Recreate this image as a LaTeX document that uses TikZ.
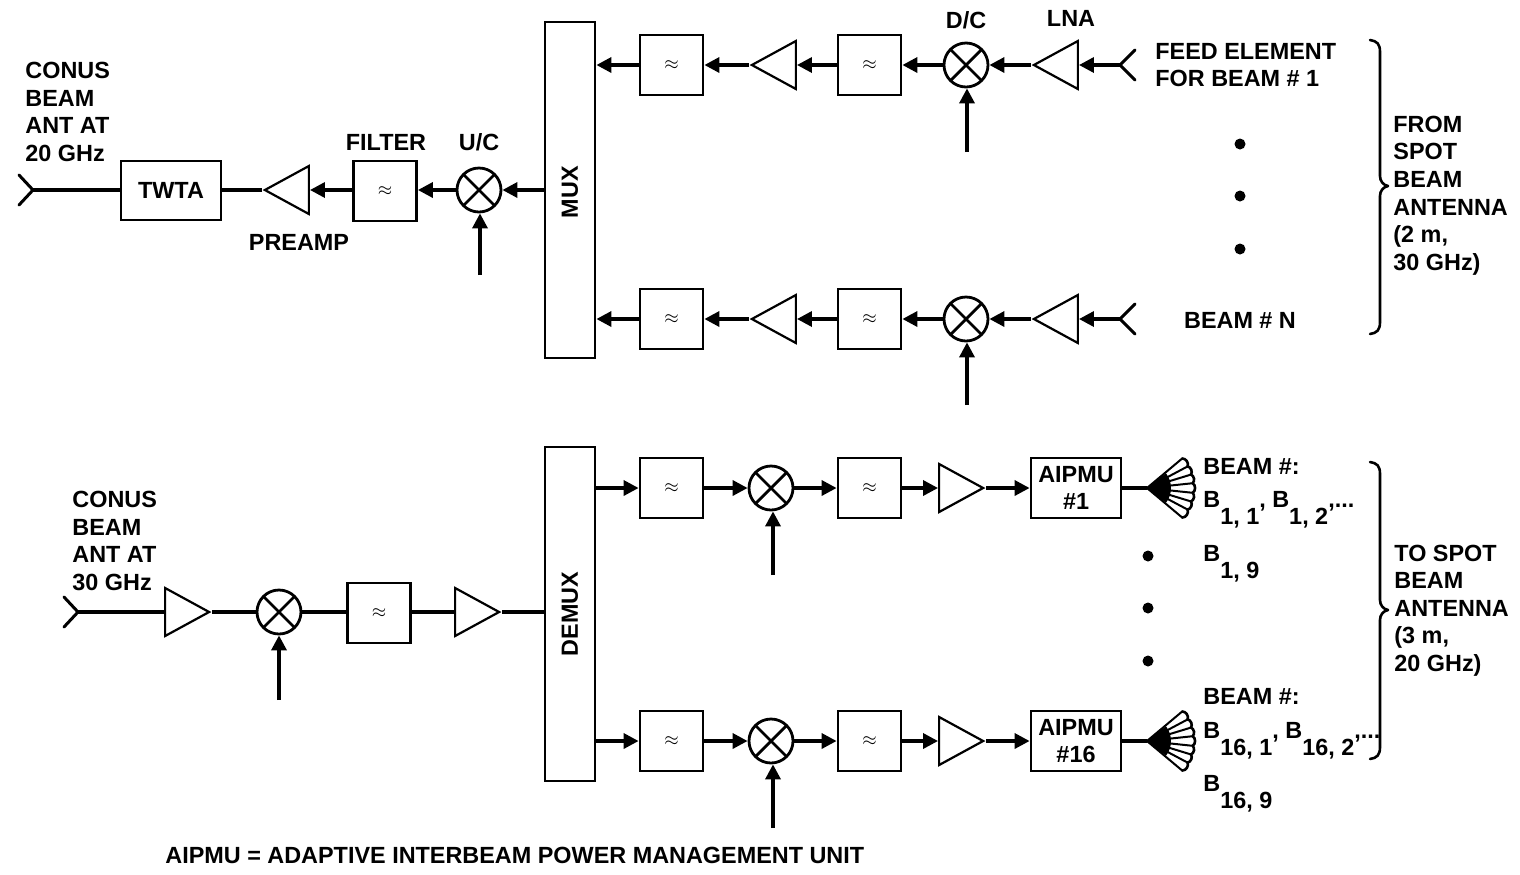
\documentclass[tikz,border=0pt]{standalone}
\usepackage{fontspec}
\setmainfont{Liberation Sans}
\usetikzlibrary{arrows.meta,shapes.geometric,calc}
\newcommand{\lowsub}[1]{\raisebox{-8.5pt}{#1}}
\tikzset{
  wire/.style={line width=1.7pt},
  flow/.style={wire,-{Triangle[length=7.5pt,width=7.5pt]}},
  boxline/.style={draw,line width=1.4pt,inner sep=0pt,fill=white},
  filterbox/.style={boxline,minimum width=31.5pt,minimum height=30pt,font=\small},
  widebox/.style={boxline,minimum width=45pt,minimum height=30pt,align=center,font=\labelfont,execute at begin node={\setlength{\baselineskip}{13.5pt}}},
  mixer/.style={circle,draw,line width=1.4pt,minimum size=22pt,inner sep=0pt,fill=white,
    path picture={\draw[line width=1.4pt] (path picture bounding box.south west)--(path picture bounding box.north east)
      (path picture bounding box.north west)--(path picture bounding box.south east);}},
  ampR/.style={isosceles triangle,isosceles triangle stretches,draw,line width=1.1pt,inner sep=0pt,
    minimum width=24pt,minimum height=22pt,anchor=apex,fill=white},
  ampL/.style={ampR,shape border rotate=180},
  vbox/.style={boxline,minimum width=25pt},
  lbl/.style={inner sep=0pt,font=\labelfont,align=left,anchor=west,execute at begin node={\setlength{\baselineskip}{13.75pt}}},
  clbl/.style={lbl,anchor=center,align=center},
  bigdot/.style={circle,fill=black,minimum size=5.5pt,inner sep=0pt},
  brace/.style={line width=1.3pt,line cap=round,line join=round},
  prong/.style={line width=1.5pt,line cap=round},
  petal/.style={line width=1pt,line cap=round},
}
\newcommand{\labelfont}{\fontsize{11.7}{13.75}\bfseries\selectfont}
\newcommand{\filt}[3]{\node[filterbox] (#1) at (#2,#3) {$\approx$};}
\newcommand{\horn}[2]{% name, y
  \coordinate (#1) at (1147,#2);
  \fill (1147,#2) -- ++(38:24) arc[start angle=38,end angle=-38,radius=24] -- cycle;
  \foreach \a in {-40,-28,-17,-6,6,17,28,40} \draw[petal] (1147,#2) -- ++(\a:46);
  \foreach \a/\b in {-40/-28,-28/-17,-17/-6,-6/6,6/17,17/28,28/40}
    \draw[line width=1.3pt,line cap=round] ($(1147,#2)+(\a:46)$) to[bend left=55] ($(1147,#2)+(\b:46)$);
}
\newcommand{\antleft}[2]{\coordinate (#1) at (#2);
  \draw[prong] ($(#2)+(-14,-15)$) -- (#2) -- ($(#2)+(-14,15)$);}
\newcommand{\antright}[2]{\coordinate (#1) at (#2);
  \draw[prong] ($(#2)+(15,-15)$) -- (#2) -- ($(#2)+(15,15)$);}
\begin{document}
\begin{tikzpicture}[x=0.5pt,y=-0.5pt]
\useasboundingbox (0,0) rectangle (1520,874);

% MUX
\node[vbox,minimum height=168pt] (mux) at (570,190) {};
\node[clbl,rotate=90] (muxt) at (570,192) {MUX};
\node[vbox,minimum height=167pt] (demux) at (570,614) {};
\node[clbl,rotate=90] (demuxt) at (570,614) {DEMUX};

% top row 1
\filt{a1}{671.5}{65}
\node[ampL] (a2) at (749,65) {};
\filt{a3}{869.5}{65}
\node[mixer] (a4) at (966,65) {};
\node[ampL] (a5) at (1031,65) {};
\antright{a6}{1120,65}
\coordinate (a7) at (967,152);
\draw[flow] (a1.west) -- (mux.east |- a1.west);
\draw[flow] (a2.apex) -- (a1.east);
\draw[flow] (a3.west) -- (a2.lower side);
\draw[flow] (a4.west) -- (a3.east);
\draw[flow] (a5.apex) -- (a4.east);
\draw[flow] (a6) -- (a5.lower side);
\draw[flow] (a7) -- (a7 |- a4.south);

% top row N
\filt{b1}{671.5}{319}
\node[ampL] (b2) at (749,319) {};
\filt{b3}{869.5}{319}
\node[mixer] (b4) at (966,319) {};
\node[ampL] (b5) at (1031,319) {};
\antright{b6}{1120,319}
\coordinate (b7) at (967,405);
\draw[flow] (b1.west) -- (mux.east |- b1.west);
\draw[flow] (b2.apex) -- (b1.east);
\draw[flow] (b3.west) -- (b2.lower side);
\draw[flow] (b4.west) -- (b3.east);
\draw[flow] (b5.apex) -- (b4.east);
\draw[flow] (b6) -- (b5.lower side);
\draw[flow] (b7) -- (b7 |- b4.south);

% left upper row
\node[mixer] (c1) at (479,190) {};
\filt{c2}{385}{191}
\node[ampL] (c3) at (262,190) {};
\node[boxline,minimum width=50pt,minimum height=29.5pt,font=\labelfont] (c4) at (171,190.5) {TWTA};
\antleft{c5}{33,190}
\coordinate (c6) at (480,275);
\draw[flow] (mux.west |- c1.east) -- (c1.east);
\draw[flow] (c1.west) -- (c2.east |- c1.west);
\draw[flow] (c2.west |- c1.west) -- (c3.lower side);
\draw[wire] (c3.apex) -- (c4.east |- c3.apex);
\draw[wire] (c4.west |- c5) -- (c5);
\draw[flow] (c6) -- (c6 |- c1.south);

% bottom row 1
\filt{d1}{671.5}{488}
\node[mixer] (d2) at (771,488) {};
\filt{d3}{869.5}{488}
\node[ampR] (d4) at (986,488) {};
\node[widebox] (d5) at (1076,488) {AIPMU\\\#1};
\horn{d6}{488}
\coordinate (d7) at (773,575);
\draw[flow] (demux.east |- d1.west) -- (d1.west);
\draw[flow] (d1.east) -- (d2.west);
\draw[flow] (d2.east) -- (d3.west);
\draw[flow] (d3.east) -- (d4.lower side);
\draw[flow] (d4.apex) -- (d5.west);
\draw[wire] (d5.east) -- (d6);
\draw[flow] (d7) -- (d7 |- d2.south);

% bottom row 16
\filt{e1}{671.5}{741}
\node[mixer] (e2) at (771,741) {};
\filt{e3}{869.5}{741}
\node[ampR] (e4) at (986,741) {};
\node[widebox] (e5) at (1076,741) {AIPMU\\\#16};
\horn{e6}{741}
\coordinate (e7) at (773,828);
\draw[flow] (demux.east |- e1.west) -- (e1.west);
\draw[flow] (e1.east) -- (e2.west);
\draw[flow] (e2.east) -- (e3.west);
\draw[flow] (e3.east) -- (e4.lower side);
\draw[flow] (e4.apex) -- (e5.west);
\draw[wire] (e5.east) -- (e6);
\draw[flow] (e7) -- (e7 |- e2.south);

% left lower row
\antleft{f0}{78,612}
\node[ampR] (f1) at (212,612) {};
\node[mixer] (f2) at (279,612) {};
\filt{f3}{379}{613}
\node[ampR] (f4) at (502,612) {};
\coordinate (f5) at (279,700);
\draw[wire] (f0) -- (f1.lower side);
\draw[wire] (f1.apex) -- (f2.west);
\draw[wire] (f2.east) -- (f3.west |- f2.east);
\draw[wire] (f3.east |- f2.east) -- (f4.lower side);
\draw[wire] (f4.apex) -- (demux.west |- f4.apex);
\draw[flow] (f5) -- (f5 |- f2.south);

% braces
\draw[brace] (1370,40) .. controls (1377,41) and (1380,44) .. (1380,52) -- (1380,176)
  .. controls (1380,181) and (1383,185) .. (1388,186) .. controls (1383,187) and (1380,191) .. (1380,196)
  -- (1380,322) .. controls (1380,330) and (1377,333) .. (1370,334);
\draw[brace] (1370,462) .. controls (1377,463) and (1380,466) .. (1380,474) -- (1380,600)
  .. controls (1380,605) and (1383,609) .. (1388,610) .. controls (1383,611) and (1380,615) .. (1380,620)
  -- (1380,747) .. controls (1380,755) and (1377,758) .. (1370,759);

% dots
\foreach \n/\x/\y in {p1/1240/144,p2/1240/196,p3/1240/249,q1/1148/556,q2/1148/608,q3/1148/661}
  \node[bigdot] (\n) at (\x,\y) {};

% labels
\node[lbl] (t1) at (25,112) {CONUS\\BEAM\\ANT AT\\20 GHz};
\node[lbl] (t2) at (72,541) {CONUS\\BEAM\\ANT AT\\30 GHz};
\node[clbl] (t3) at (386,142) {FILTER};
\node[clbl] (t4) at (479,142) {U/C};
\node[clbl] (t5) at (299,242) {PREAMP};
\node[clbl] (t6) at (966,20) {D/C};
\node[clbl] (t7) at (1071,18) {LNA};
\node[lbl] (t8) at (1155,65) {FEED ELEMENT\\FOR BEAM \# 1};
\node[clbl] (t9) at (1240,320) {BEAM \# N};
\node[lbl] (t10) at (1393,195.5) {FROM\\SPOT\\BEAM\\ANTENNA\\(2 m,\\30 GHz)};
\node[lbl] (t11) at (1394,610.5) {TO SPOT\\BEAM\\ANTENNA\\(3 m,\\20 GHz)};
\node[lbl] (t12) at (1203,466) {BEAM \#:};
\node[lbl,anchor=base west] (t13) at (1203,507) {B\lowsub{1, 1}, B\lowsub{1, 2},...};
\node[lbl,anchor=base west] (t14) at (1203,561) {B\lowsub{1, 9}};
\node[lbl] (t15) at (1203,696) {BEAM \#:};
\node[lbl,anchor=base west] (t16) at (1203,738) {B\lowsub{16, 1}, B\lowsub{16, 2},...};
\node[lbl,anchor=base west] (t17) at (1203,791) {B\lowsub{16, 9}};
\node[lbl] (t18) at (165,855) {AIPMU = ADAPTIVE INTERBEAM POWER MANAGEMENT UNIT};
\end{tikzpicture}
\end{document}
